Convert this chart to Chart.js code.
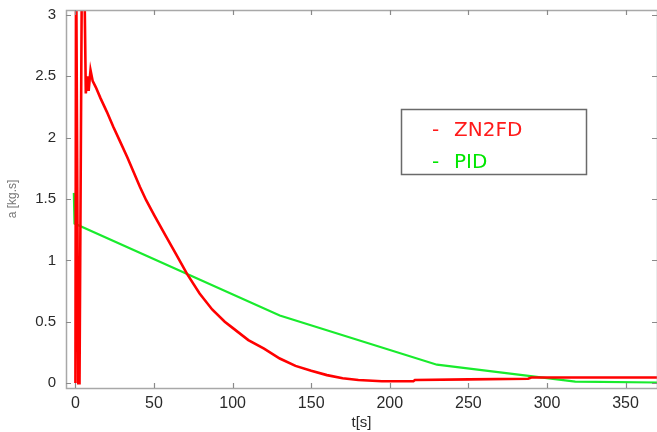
<!DOCTYPE html>
<html>
<head>
<meta charset="utf-8">
<script src="https://cdn.jsdelivr.net/npm/chart.js@4.4.0/dist/chart.umd.min.js"></script>
<style>
  html, body { margin: 0; padding: 0; background: #fff; }
  #wrap { width: 657px; height: 432px; }
</style>
</head>
<body>
<div id="wrap"><canvas id="graph" width="657" height="432"></canvas></div>
<script>
// ZN2FD response, t[s] / a
const znT = [0, 0.4, 1.8, 2.6, 4.2, 5.4, 6.6, 7.6, 8.4, 9.6, 11, 13, 16, 20, 24, 28, 33, 37, 41, 45, 50, 57, 64, 71, 79, 87, 95, 100, 110, 120, 130, 140, 150, 160, 170, 180, 195, 215, 216, 250, 288, 290, 370];
const znA = [0, 3.6, 0, 0, 3.6, 3.6, 2.36, 2.5, 2.38, 2.55, 2.46, 2.41, 2.32, 2.21, 2.09, 1.98, 1.84, 1.72, 1.6, 1.49, 1.37, 1.21, 1.05, 0.89, 0.73, 0.6, 0.5, 0.45, 0.35, 0.28, 0.2, 0.14, 0.1, 0.065, 0.04, 0.025, 0.015, 0.015, 0.025, 0.03, 0.035, 0.045, 0.045];

// PID response
const pidT = [-1, -0.6, 130, 230, 300, 318, 370];
const pidA = [1.55, 1.3, 0.55, 0.15, 0.04, 0.012, 0.005];

const xTicks = [0, 50, 100, 150, 200, 250, 300, 350];
const yTicks = [0, 0.5, 1, 1.5, 2, 2.5, 3];

const toPoints = (ts, as) => ts.map((t, i) => ({x: t, y: as[i]}));

// box around the plot with matlab style inner ticks, plus the legend
const boxPlugin = {
    id: 'box',
    afterDraw(chart) {
        const ctx = chart.ctx;
        const a = chart.chartArea;
        const sx = chart.scales.x;
        const sy = chart.scales.y;
        ctx.save();
        ctx.strokeStyle = '#a8a8a8';
        ctx.lineWidth = 1.5;
        ctx.strokeRect(a.left + 0.5, a.top + 0.5, a.right - a.left, a.bottom - a.top);
        ctx.strokeStyle = '#8a8a8a';
        ctx.lineWidth = 1.2;
        ctx.beginPath();
        for (const v of xTicks) {
            const px = Math.round(sx.getPixelForValue(v)) + 0.5;
            ctx.moveTo(px, a.bottom); ctx.lineTo(px, a.bottom - 5);
            ctx.moveTo(px, a.top); ctx.lineTo(px, a.top + 5);
        }
        for (const v of yTicks) {
            const py = Math.round(sy.getPixelForValue(v)) + 0.5;
            ctx.moveTo(a.left, py); ctx.lineTo(a.left + 5, py);
            ctx.moveTo(a.right, py); ctx.lineTo(a.right - 5, py);
        }
        ctx.stroke();

        // legend
        ctx.fillStyle = '#fff';
        ctx.fillRect(401, 109, 185, 65);
        ctx.strokeStyle = '#6a6a6a';
        ctx.lineWidth = 1.5;
        ctx.strokeRect(401.5, 109.5, 185, 65);
        ctx.font = '20px "DejaVu Sans"';
        ctx.textBaseline = 'alphabetic';
        ctx.fillStyle = '#ff1a1a';
        ctx.fillText('-', 432, 136);
        ctx.fillText('ZN2FD', 454, 136);
        ctx.fillStyle = '#00e600';
        ctx.fillText('-', 432, 168);
        ctx.fillText('PID', 454, 168);
        ctx.restore();
    }
};

const config = {
    type: 'line',
    data: {
        datasets: [{
            label: 'ZN2FD',
            data: toPoints(znT, znA),
            borderColor: 'rgb(255, 0, 0)',
            borderWidth: 2.6,
            pointRadius: 0,
            tension: 0,
            clip: 0
        }, {
            label: 'PID',
            data: toPoints(pidT, pidA),
            borderColor: 'rgb(25, 235, 45)',
            borderWidth: 2.2,
            pointRadius: 0,
            tension: 0,
            clip: 0
        }]
    },
    options: {
        responsive: false,
        animation: false,
        layout: {
            padding: {top: 10, right: 0, left: 0, bottom: 0}
        },
        plugins: {
            legend: false,
            tooltip: {enabled: false}
        },
        scales: {
            x: {
                type: 'linear',
                min: -6,
                max: 370,
                afterBuildTicks: (scale) => { scale.ticks = xTicks.map(v => ({value: v})); },
                afterFit: (scale) => {
                    scale.height = 44;
                    scale.paddingLeft = 0;
                    scale.paddingRight = 0;
                },
                grid: {display: false, drawTicks: false},
                border: {display: false},
                ticks: {
                    color: '#2a2a2a',
                    padding: 6,
                    maxRotation: 0,
                    callback: (v) => String(v),
                    font: {family: 'Liberation Sans', size: 16}
                },
                title: {
                    display: true,
                    text: 't[s]',
                    color: '#2a2a2a',
                    padding: {top: 0, bottom: 0},
                    font: {family: 'Liberation Sans', size: 15}
                }
            },
            y: {
                min: -0.04,
                max: 3.04,
                afterBuildTicks: (scale) => { scale.ticks = yTicks.map(v => ({value: v})); },
                afterFit: (scale) => {
                    scale.width = 66;
                    scale.paddingTop = 0;
                    scale.paddingBottom = 0;
                },
                grid: {display: false, drawTicks: false},
                border: {display: false},
                ticks: {
                    color: '#2a2a2a',
                    padding: 10,
                    callback: (v) => String(v),
                    font: {family: 'Liberation Sans', size: 15}
                },
                title: {
                    display: true,
                    text: 'a [kg.s]',
                    color: '#777',
                    padding: {top: 5, bottom: 0},
                    font: {family: 'Liberation Sans', size: 12}
                }
            }
        }
    },
    plugins: [boxPlugin]
};

document.addEventListener('DOMContentLoaded', function() {
    const graph = document.querySelector('#graph').getContext('2d');
    new Chart(graph, config);
});
</script>
</body>
</html>
